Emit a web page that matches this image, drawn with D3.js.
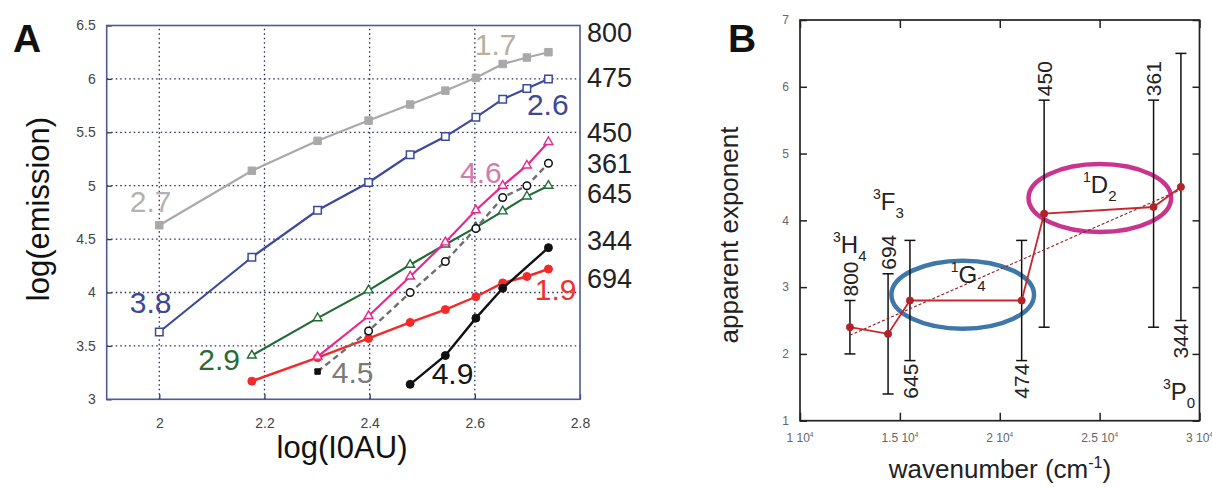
<!DOCTYPE html>
<html><head><meta charset="utf-8">
<script src="https://cdn.jsdelivr.net/npm/d3@7"></script>
<style>
html,body{margin:0;padding:0;background:#fff;}
svg{display:block;font-family:"Liberation Sans",Arial,sans-serif;}
</style></head><body>
<svg id="chart" width="1212" height="488"></svg>
<script>
// ---------- Panel A data ----------
const logI0AU = [2.000, 2.176, 2.301, 2.398, 2.477, 2.544, 2.602, 2.653, 2.699, 2.740];
const em800 = [4.63, 5.14, 5.42, 5.61, 5.76, 5.89, 6.01, 6.14, 6.20, 6.25];
const em475 = [3.63, 4.33, 4.77, 5.03, 5.29, 5.46, 5.64, 5.81, 5.91, 6.00];
const em645 = [null, 3.41, 3.76, 4.02, 4.26, 4.45, 4.61, 4.76, 4.90, 5.00];
const em450 = [null, null, 3.40, 3.78, 4.15, 4.47, 4.77, 5.00, 5.19, 5.41];
const em361 = [null, null, 3.26, 3.64, 4.00, 4.29, 4.60, 4.89, 5.00, 5.21];
const em694 = [null, 3.17, 3.39, 3.57, 3.72, 3.84, 3.96, 4.09, 4.15, 4.22];
const em344 = [null, null, null, null, 3.14, 3.41, 3.76, 4.04, null, 4.42];
const xTicksA = [2, 2.2, 2.4, 2.6, 2.8];
const yTicksA = [3, 3.5, 4, 4.5, 5, 5.5, 6, 6.5];
const slopeLabels = ["2.7", "3.8", "2.9", "4.5", "4.9", "4.6", "1.7", "2.6", "1.9"];
const slopeLabelX = [1.944, 1.944, 2.074, 2.328, 2.518, 2.572, 2.600, 2.699, 2.714];
const slopeLabelY = [4.756, 3.809, 3.275, 3.153, 3.144, 5.028, 6.228, 5.665, 3.93];
const wlLabels = ["800", "475", "450", "361", "645", "344", "694"];
const wlLabelY = [6.35, 5.92, 5.41, 5.12, 4.84, 4.40, 4.04];

// ---------- Panel B data ----------
const wlB = ["800", "694", "645", "474", "450", "361", "344"];
const wavenumber = [12500, 14409, 15504, 21097, 22222, 27701, 29070];
const exponent = [2.4, 2.3, 2.8, 2.8, 4.1, 4.2, 4.5];
const errLow = [2.0, 1.4, 1.9, 1.9, 2.4, 2.4, 2.5];
const errHigh = [2.8, 3.2, 3.7, 3.7, 5.8, 5.8, 6.5];
const labelSide = ["top", "top", "bottom", "bottom", "top", "top", "bottom"];
const fitX = [12500, 29070];
const fitY = [2.28, 4.46];
const xTicksB = [10000, 15000, 20000, 25000, 30000];
const xTickLabB = ["1 10", "1.5 10", "2 10", "2.5 10", "3 10"];
const yTicksB = [1, 2, 3, 4, 5, 6, 7];
const termSup = ["3", "3", "1", "1", "3"];
const termMain = ["H", "F", "G", "D", "P"];
const termSub = ["4", "3", "4", "2", "0"];
const termX = [11652, 13654, 17544, 24167, 28172];
const termY = [3.51, 4.155, 3.062, 4.41, 1.31];
const ellCx = [18146, 25010];
const ellCy = [2.887, 4.335];
const ellRx = [3570, 3570];
const ellRy = [0.509, 0.509];

const svg = d3.select("#chart");
const FONT = '"Liberation Sans", Arial, sans-serif';

// ================= PANEL A =================
const xA = d3.scaleLinear().domain([1.9, 2.8]).range([106.7, 580]);
const yA = d3.scaleLinear().domain([3, 6.5]).range([399.3, 25.5]);
const gA = svg.append("g");

// grid
gA.selectAll(".vg").data(xTicksA.filter(d => d < 2.8)).enter().append("line")
  .attr("x1", d => xA(d)).attr("x2", d => xA(d))
  .attr("y1", yA(3)).attr("y2", yA(6.5))
  .attr("stroke", "#262b5c").attr("stroke-width", 1.3).attr("stroke-dasharray", "1.5,3");
gA.selectAll(".hg").data(yTicksA.filter(d => d > 3 && d < 6.5)).enter().append("line")
  .attr("x1", xA(1.9)).attr("x2", xA(2.8))
  .attr("y1", d => yA(d)).attr("y2", d => yA(d))
  .attr("stroke", "#262b5c").attr("stroke-width", 1.3).attr("stroke-dasharray", "1.5,3");

// axes
const axB = gA.append("g").attr("transform", `translate(0,${yA(3)})`)
  .call(d3.axisBottom(xA).tickValues(xTicksA).tickSize(-5).tickPadding(19).tickFormat(d => d));
const axL = gA.append("g").attr("transform", `translate(${xA(1.9)},0)`)
  .call(d3.axisLeft(yA).tickValues(yTicksA).tickSize(-5).tickPadding(11).tickFormat(d => d));
[axB, axL].forEach(a => {
  a.select(".domain").remove();
  a.selectAll(".tick line").attr("stroke", "#2a2f60").attr("stroke-width", 1.3);
  a.selectAll("text").attr("font-family", FONT).attr("font-size", 14).attr("fill", "#444");
});
gA.append("rect").attr("x", xA(1.9)).attr("y", yA(6.5))
  .attr("width", xA(2.8) - xA(1.9)).attr("height", yA(3) - yA(6.5))
  .attr("fill", "none").attr("stroke", "#4f5a95").attr("stroke-width", 1.6);

function pts(arr) {
  return logI0AU.map((x, i) => ({x, y: arr[i]})).filter(d => d.y !== null);
}
const lineA = d3.line().x(d => xA(d.x)).y(d => yA(d.y));

function series(arr, color, width, dash) {
  gA.append("path").datum(pts(arr)).attr("d", lineA)
    .attr("fill", "none").attr("stroke", color).attr("stroke-width", width)
    .attr("stroke-dasharray", dash || null);
}
function symbols(arr, type, size, fill, stroke, sw) {
  gA.selectAll(null).data(pts(arr)).enter().append("path")
    .attr("d", d3.symbol().type(type).size(size)())
    .attr("transform", d => `translate(${xA(d.x)},${yA(d.y)})`)
    .attr("fill", fill).attr("stroke", stroke).attr("stroke-width", sw);
}

const cGray = "#a9a9a9", cBlue = "#3b4a9c", cGreen = "#216b36", cPink = "#e8288f",
      cRed = "#f22a2a", cBlack = "#111111", cDash = "#6e6e6e";

series(em800, cGray, 2.2);
symbols(em800, d3.symbolSquare, 56, cGray, cGray, 1);
series(em475, cBlue, 2.2);
symbols(em475, d3.symbolSquare, 56, "#fff", cBlue, 1.5);
series(em645, cGreen, 2.2);
symbols(em645, d3.symbolTriangle, 34, "#fff", cGreen, 1.4);
series(em694, cRed, 2.4);
symbols(em694, d3.symbolCircle, 50, cRed, cRed, 1);
series(em450, cPink, 2.2);
symbols(em450, d3.symbolTriangle, 34, "#fff", cPink, 1.4);
series(em361, cDash, 2.4, "6,4");
symbols(em361.map((v, i) => i === 2 ? null : v), d3.symbolCircle, 45, "#fff", cBlack, 1.5);
symbols(em361.map((v, i) => i === 2 ? v : null), d3.symbolSquare, 30, cBlack, cBlack, 1);
series(em344, cBlack, 2.4);
symbols(em344, d3.symbolCircle, 50, cBlack, cBlack, 1);

const slopeColors = ["#b3b3b3", "#3d4896", "#2a6b35", "#7a7a7a", "#151515", "#d47aaf", "#b8b09c", "#3d4896", "#f03030"];
gA.selectAll(".sl").data(slopeLabels).enter().append("text")
  .attr("x", (d, i) => xA(slopeLabelX[i])).attr("y", (d, i) => yA(slopeLabelY[i]))
  .attr("font-family", FONT).attr("font-size", 30).attr("fill", (d, i) => slopeColors[i])
  .text(d => d);

gA.selectAll(".wl").data(wlLabels).enter().append("text")
  .attr("x", xA(2.8) + 7).attr("y", (d, i) => yA(wlLabelY[i]))
  .attr("font-family", FONT).attr("font-size", 27).attr("fill", "#222")
  .text(d => d);

gA.append("text").attr("x", 342).attr("y", 458).attr("text-anchor", "middle")
  .attr("font-family", FONT).attr("font-size", 31).attr("fill", "#111").text("log(I0AU)");
gA.append("text").attr("transform", "translate(48.5,209) rotate(-90)").attr("text-anchor", "middle")
  .attr("font-family", FONT).attr("font-size", 31).attr("fill", "#111").text("log(emission)");
svg.append("text").attr("x", 13).attr("y", 52).attr("font-family", FONT).attr("font-weight", "bold")
  .attr("font-size", 39).attr("fill", "#111").text("A");

// ================= PANEL B =================
const xB = d3.scaleLinear().domain([10000, 30000]).range([800, 1199.5]);
const yB = d3.scaleLinear().domain([1, 7]).range([420.7, 20]);
const gB = svg.append("g");

const tB = gB.append("g").attr("transform", `translate(0,${yB(1)})`)
  .call(d3.axisBottom(xB).tickValues(xTicksB).tickSize(-8).tickFormat(""));
const tT = gB.append("g").attr("transform", `translate(0,${yB(7)})`)
  .call(d3.axisTop(xB).tickValues(xTicksB).tickSize(-8).tickFormat(""));
const tL = gB.append("g").attr("transform", `translate(${xB(10000)},0)`)
  .call(d3.axisLeft(yB).tickValues(yTicksB).tickSize(-7).tickFormat(""));
const tR = gB.append("g").attr("transform", `translate(${xB(30000)},0)`)
  .call(d3.axisRight(yB).tickValues(yTicksB).tickSize(-7).tickFormat(""));
[tB, tT, tL, tR].forEach(a => {
  a.select(".domain").remove();
  a.selectAll(".tick line").attr("stroke", "#222").attr("stroke-width", 1.5);
});
gB.append("rect").attr("x", xB(10000)).attr("y", yB(7))
  .attr("width", xB(30000) - xB(10000)).attr("height", yB(1) - yB(7))
  .attr("fill", "none").attr("stroke", "#222").attr("stroke-width", 1.7);

// tick labels
const xl = gB.selectAll(".xl").data(xTicksB).enter().append("text")
  .attr("x", d => xB(d)).attr("y", 441.5).attr("text-anchor", "middle")
  .attr("font-family", FONT).attr("font-size", 12).attr("fill", "#666");
xl.append("tspan").text((d, i) => xTickLabB[i]);
xl.append("tspan").attr("font-size", 6.5).attr("dy", -5).text("4");
gB.selectAll(".yl").data(yTicksB).enter().append("text")
  .attr("x", xB(10000) - 11).attr("y", d => yB(d)).attr("dy", "0.35em").attr("text-anchor", "end")
  .attr("font-family", FONT).attr("font-size", 12).attr("fill", "#666").text(d => d);

// ellipses
const ellColors = ["#3f78a8", "#c8348e"];
gB.selectAll(".ell").data(ellCx).enter().append("ellipse")
  .attr("cx", d => xB(d)).attr("cy", (d, i) => yB(ellCy[i]))
  .attr("rx", (d, i) => xB(d + ellRx[i]) - xB(d))
  .attr("ry", (d, i) => yB(ellCy[i] - ellRy[i]) - yB(ellCy[i]))
  .attr("fill", "none").attr("stroke", (d, i) => ellColors[i]).attr("stroke-width", 4.5);

// error bars
const idx = d3.range(wavenumber.length);
gB.selectAll(".eb").data(idx).enter().append("line")
  .attr("x1", i => xB(wavenumber[i])).attr("x2", i => xB(wavenumber[i]))
  .attr("y1", i => yB(errLow[i])).attr("y2", i => yB(errHigh[i]))
  .attr("stroke", "#111").attr("stroke-width", 1.5);
[errLow, errHigh].forEach(arr => {
  gB.selectAll(null).data(idx).enter().append("line")
    .attr("x1", i => xB(wavenumber[i]) - 5.5).attr("x2", i => xB(wavenumber[i]) + 5.5)
    .attr("y1", i => yB(arr[i])).attr("y2", i => yB(arr[i]))
    .attr("stroke", "#111").attr("stroke-width", 1.5);
});

// fit line
gB.append("path").datum(fitX.map((x, i) => ({x, y: fitY[i]})))
  .attr("d", d3.line().x(d => xB(d.x)).y(d => yB(d.y)))
  .attr("fill", "none").attr("stroke", "#8e1f24").attr("stroke-width", 1.1).attr("stroke-dasharray", "3,2");

// data line + markers
const ptsB = idx.map(i => ({x: wavenumber[i], y: exponent[i]}));
gB.append("path").datum(ptsB)
  .attr("d", d3.line().x(d => xB(d.x)).y(d => yB(d.y)))
  .attr("fill", "none").attr("stroke", "#c8262c").attr("stroke-width", 1.8);
gB.selectAll(".mk").data(ptsB).enter().append("circle")
  .attr("cx", d => xB(d.x)).attr("cy", d => yB(d.y)).attr("r", 3.6)
  .attr("fill", "#b0232a").attr("stroke", "#b0232a").attr("stroke-width", 0.8);

// rotated wavelength labels
gB.selectAll(".rl").data(idx).enter().append("text")
  .attr("transform", i => {
    const x = xB(wavenumber[i]);
    const y = labelSide[i] === "top" ? yB(errHigh[i]) - 4 : yB(errLow[i]) + 3;
    return `translate(${x},${y}) rotate(-90)`;
  })
  .attr("text-anchor", i => labelSide[i] === "top" ? "start" : "end")
  .attr("dy", "0.36em")
  .attr("font-family", FONT).attr("font-size", 21).attr("fill", "#222")
  .text(i => wlB[i]);

// term symbols
const tm = gB.selectAll(".tm").data(termMain).enter().append("text")
  .attr("x", (d, i) => xB(termX[i])).attr("y", (d, i) => yB(termY[i]))
  .attr("font-family", FONT).attr("fill", "#222");
tm.append("tspan").attr("font-size", 14).attr("dy", -11).text((d, i) => termSup[i]);
tm.append("tspan").attr("font-size", 24).attr("dy", 11).text(d => d);
tm.append("tspan").attr("font-size", 15).attr("dy", 8).text((d, i) => termSub[i]);

// axis titles
const xt = gB.append("text").attr("x", 1000).attr("y", 478).attr("text-anchor", "middle")
  .attr("font-family", FONT).attr("font-size", 26).attr("fill", "#222");
xt.append("tspan").text("wavenumber (cm");
xt.append("tspan").attr("font-size", 16).attr("dy", -10).text("-1");
xt.append("tspan").attr("dy", 10).text(")");
gB.append("text").attr("transform", "translate(737.5,235) rotate(-90)").attr("text-anchor", "middle")
  .attr("font-family", FONT).attr("font-size", 26).attr("fill", "#222").text("apparent exponent");
svg.append("text").attr("x", 728).attr("y", 52).attr("font-family", FONT).attr("font-weight", "bold")
  .attr("font-size", 39).attr("fill", "#111").text("B");
</script>
</body></html>
